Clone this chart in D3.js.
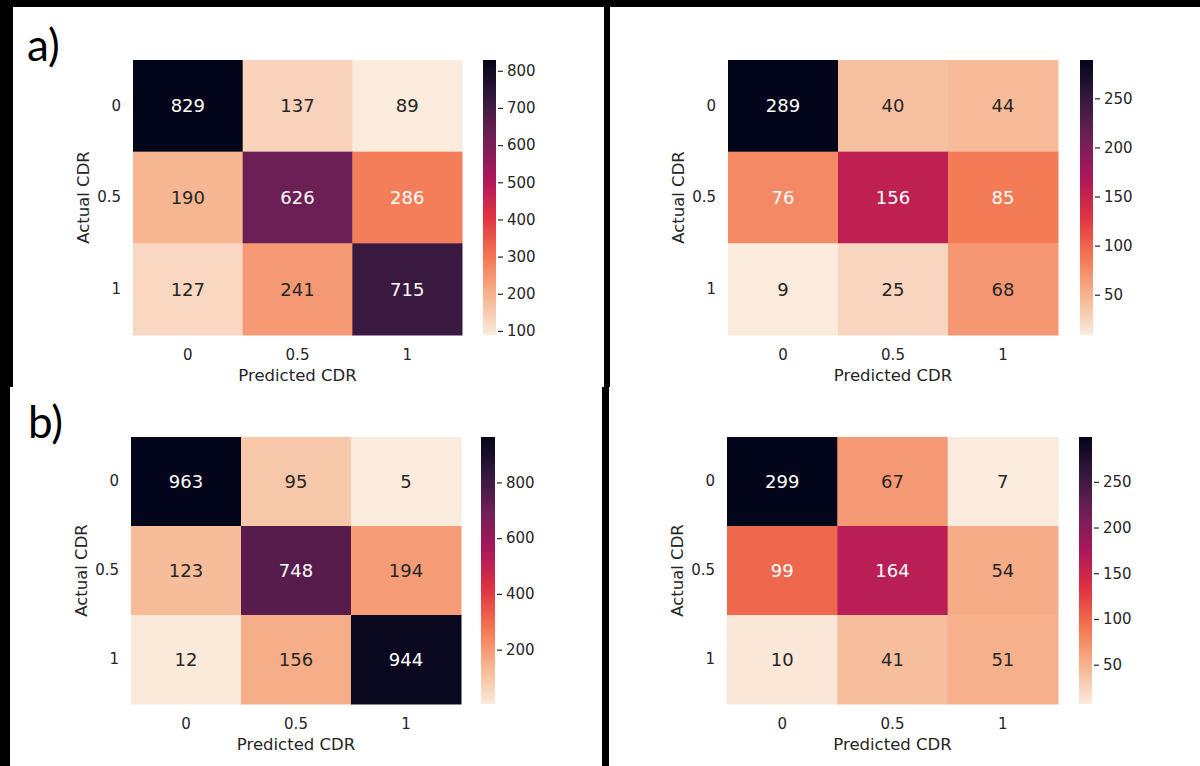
<!DOCTYPE html>
<html>
<head>
<meta charset="utf-8">
<script src="https://cdn.jsdelivr.net/npm/d3@7"></script>
<style>
    body { margin: 0; background: #fff; }
    svg text { font-family: "DejaVu Sans", sans-serif; fill: #262626; }
    .panelLetter { font-family: Lato, "Open Sans", sans-serif; fill: #000; }
</style>
</head>
<body>
<svg id="fig" width="1200" height="766"></svg>
<script>
//////////////////// DATA ////////////////////
// class labels (rows = actual, columns = predicted)
const cdrLabels = ["0", "0.5", "1"];

// confusion matrices
const matrixTopLeft = [[829, 137, 89], [190, 626, 286], [127, 241, 715]];
const matrixTopRight = [[289, 40, 44], [76, 156, 85], [9, 25, 68]];
const matrixBottomLeft = [[963, 95, 5], [123, 748, 194], [12, 156, 944]];
const matrixBottomRight = [[299, 67, 7], [99, 164, 54], [10, 41, 51]];

// colorbar ticks
const cbTicksTopLeft = [100, 200, 300, 400, 500, 600, 700, 800];
const cbTicksTopRight = [50, 100, 150, 200, 250];
const cbTicksBottomLeft = [200, 400, 600, 800];
const cbTicksBottomRight = [50, 100, 150, 200, 250];

// axis titles and panel letters
const xTitle = "Predicted CDR";
const yTitle = "Actual CDR";
const panelLetters = ["a)", "b)"];


//////////////////// LAYOUT ////////////////////
const svg = d3.select("#fig");

const panels = [
    { values: matrixTopLeft, ticks: cbTicksTopLeft, hm: { x0: 133, x1: 462, y0: 60, y1: 335 }, cb: { x0: 483, x1: 496 } },
    { values: matrixTopRight, ticks: cbTicksTopRight, hm: { x0: 728, x1: 1058, y0: 60, y1: 335 }, cb: { x0: 1080, x1: 1093 } },
    { values: matrixBottomLeft, ticks: cbTicksBottomLeft, hm: { x0: 131, x1: 461, y0: 437, y1: 704 }, cb: { x0: 481, x1: 495 } },
    { values: matrixBottomRight, ticks: cbTicksBottomRight, hm: { x0: 727, x1: 1058, y0: 437, y1: 704 }, cb: { x0: 1079, x1: 1092 } }
];


//////////////////// COLORMAP (seaborn rocket, reversed) ////////////////////
const rocketStops = ["#03051a", "#35193e", "#701f57", "#ad1759", "#e13342", "#f37651", "#f6b48f", "#faebdd"];
const rocket = d3.scaleLinear()
    .domain(rocketStops.map((d, i) => i / (rocketStops.length - 1)))
    .range(rocketStops)
    .interpolate(d3.interpolateRgb);
const rocketR = t => rocket(1 - t);

// same rule seaborn uses to pick annotation colour
function luminance(color) {
    const c = d3.rgb(color);
    const lin = v => { v /= 255; return v <= 0.03928 ? v / 12.92 : Math.pow((v + 0.055) / 1.055, 2.4); };
    return 0.2126 * lin(c.r) + 0.7152 * lin(c.g) + 0.0722 * lin(c.b);
}


//////////////////// DRAW PANELS ////////////////////
panels.forEach((p, idx) => drawPanel(p, idx));

function drawPanel(p, idx) {
    const g = svg.append("g");
    const flat = p.values.flat();
    const vmin = d3.min(flat), vmax = d3.max(flat);
    const norm = d3.scaleLinear().domain([vmin, vmax]).range([0, 1]);

    const xScale = d3.scaleBand().domain(cdrLabels).range([p.hm.x0, p.hm.x1]);
    const yScale = d3.scaleBand().domain(cdrLabels).range([p.hm.y0, p.hm.y1]);

    const cells = [];
    p.values.forEach((row, r) => row.forEach((v, c) => cells.push({ row: cdrLabels[r], col: cdrLabels[c], value: v })));

    // cells
    g.selectAll("rect.cell")
        .data(cells)
        .enter()
        .append("rect")
        .attr("class", "cell")
        .attr("x", d => xScale(d.col))
        .attr("y", d => yScale(d.row))
        .attr("width", xScale.bandwidth() + 0.5)
        .attr("height", yScale.bandwidth() + 0.5)
        .attr("fill", d => rocketR(norm(d.value)));

    // annotations
    g.selectAll("text.annot")
        .data(cells)
        .enter()
        .append("text")
        .attr("class", "annot")
        .attr("x", d => xScale(d.col) + xScale.bandwidth() / 2)
        .attr("y", d => yScale(d.row) + yScale.bandwidth() / 2)
        .attr("dy", "0.36em")
        .attr("text-anchor", "middle")
        .style("font-size", "18px")
        .style("fill", d => luminance(rocketR(norm(d.value))) > 0.408 ? "#262626" : "#ffffff")
        .text(d => d.value);

    // x axis
    const xAxisG = g.append("g")
        .attr("transform", `translate(0, ${p.hm.y1})`)
        .call(d3.axisBottom(xScale).tickSize(0).tickPadding(14));
    // y axis
    const yAxisG = g.append("g")
        .attr("transform", `translate(${p.hm.x0}, 0)`)
        .call(d3.axisLeft(yScale).tickSize(0).tickPadding(12));
    [xAxisG, yAxisG].forEach(a => {
        a.select(".domain").remove();
        a.selectAll("text").style("font-size", "15px").style("font-family", "DejaVu Sans").attr("fill", "#262626");
    });

    // axis titles
    g.append("text")
        .attr("x", (p.hm.x0 + p.hm.x1) / 2)
        .attr("y", p.hm.y1 + 40)
        .attr("dy", "0.36em")
        .attr("text-anchor", "middle")
        .style("font-size", "16.5px")
        .text(xTitle);
    const yc = (p.hm.y0 + p.hm.y1) / 2;
    const xc = p.hm.x0 - 50;
    g.append("text")
        .attr("transform", `rotate(-90, ${xc}, ${yc})`)
        .attr("x", xc)
        .attr("y", yc)
        .attr("dy", "0.36em")
        .attr("text-anchor", "middle")
        .style("font-size", "16.5px")
        .text(yTitle);

    // colorbar
    const gradId = "cbGrad" + idx;
    const grad = svg.append("defs").append("linearGradient")
        .attr("id", gradId)
        .attr("x1", 0).attr("y1", 1).attr("x2", 0).attr("y2", 0);
    d3.range(0, 1.0001, 0.02).forEach(s => {
        grad.append("stop").attr("offset", s).attr("stop-color", rocketR(s));
    });
    g.append("rect")
        .attr("x", p.cb.x0)
        .attr("y", p.hm.y0)
        .attr("width", p.cb.x1 - p.cb.x0)
        .attr("height", p.hm.y1 - p.hm.y0)
        .attr("fill", `url(#${gradId})`);

    const cbScale = d3.scaleLinear().domain([vmin, vmax]).range([p.hm.y1, p.hm.y0]);
    const cbAxisG = g.append("g")
        .attr("transform", `translate(${p.cb.x1 + 2}, 0)`)
        .call(d3.axisRight(cbScale).tickValues(p.ticks).tickSize(5).tickPadding(4));
    cbAxisG.select(".domain").remove();
    cbAxisG.selectAll("line").attr("stroke", "#262626").attr("stroke-width", 1.2);
    cbAxisG.selectAll("text").style("font-size", "15px").style("font-family", "DejaVu Sans").attr("fill", "#262626");
}


//////////////////// PANEL LETTERS ////////////////////
svg.append("text").attr("class", "panelLetter").attr("x", 27).attr("y", 61).style("font-size", "44px").text(panelLetters[0]);
svg.append("text").attr("class", "panelLetter").attr("x", 28).attr("y", 438).style("font-size", "44px").text(panelLetters[1]);


//////////////////// BLACK FRAME ////////////////////
const frame = [
    { x: 0, y: 0, w: 1200, h: 7 },
    { x: 0, y: 0, w: 13, h: 387 },
    { x: 0, y: 387, w: 10, h: 379 },
    { x: 604, y: 0, w: 6, h: 387 },
    { x: 602, y: 387, w: 7, h: 379 }
];
svg.selectAll("rect.frame")
    .data(frame)
    .enter()
    .append("rect")
    .attr("class", "frame")
    .attr("x", d => d.x).attr("y", d => d.y)
    .attr("width", d => d.w).attr("height", d => d.h)
    .attr("fill", "#000");
</script>
</body>
</html>
